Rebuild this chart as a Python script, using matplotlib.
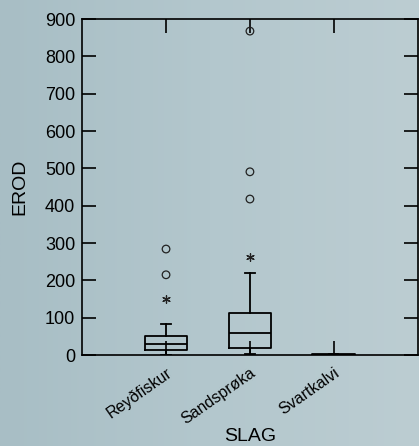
import numpy as np
import matplotlib
matplotlib.use("Agg")
import matplotlib.pyplot as plt
import matplotlib.transforms as mtransforms
from matplotlib.colors import LinearSegmentedColormap

plt.rcParams['font.family'] = ['Liberation Sans', 'DejaVu Sans']

# box statistics
labels = ['Reyðfiskur', 'Sandsprøka', 'Svartkalvi']
whislo = [0, 3, 0]
q1 = [13, 20, 0]
med = [29, 58, 1]
q3 = [51, 113, 2]
whishi = [83, 221, 3]
# outliers (circles) and extremes (stars)
circles = [[215, 284], [418, 491, 868], []]
stars = [[149], [263], []]
yticks = [0, 100, 200, 300, 400, 500, 600, 700, 800, 900]

fig = plt.figure(figsize=(4.19, 4.46), dpi=100)

# background gradient
bg = fig.add_axes([0, 0, 1, 1], zorder=-10)
bg_cmap = LinearSegmentedColormap.from_list("bg", ["#a8bec5", "#b3c7cd", "#bccdd2"])
bg.imshow(np.linspace(0, 1, 256).reshape(1, -1), aspect='auto', cmap=bg_cmap,
          extent=(0, 1, 0, 1))
bg.axis('off')

ax = fig.add_axes([0.196, 0.204, 0.801, 0.753])
ax.set_facecolor('none')

stats = []
for i in range(len(labels)):
    stats.append(dict(whislo=whislo[i], q1=q1[i], med=med[i], q3=q3[i],
                      whishi=whishi[i], fliers=[], label=labels[i]))

pos = np.arange(1, len(labels) + 1)
lw = 1.3
ax.bxp(stats, positions=pos, widths=0.51, capwidths=0.11, showfliers=False,
       boxprops=dict(color='black', linewidth=lw),
       medianprops=dict(color='black', linewidth=lw),
       whiskerprops=dict(color='black', linewidth=lw),
       capprops=dict(color='black', linewidth=lw))

for p, c, s in zip(pos, circles, stars):
    if c:
        ax.scatter([p] * len(c), c, s=30, marker='o', facecolors='none',
                   edgecolors='#222222', linewidths=0.9, zorder=3, clip_on=False)
    if s:
        ax.scatter([p] * len(s), s, s=30, marker=(6, 2, 0), color='#222222',
                   linewidths=0.9, zorder=3)

ax.set_xlim(0, 4)
ax.set_ylim(0, 900)
ax.set_yticks(yticks)
ax.set_xticks(pos)
ax.set_xticklabels(labels, rotation=35, ha='right', rotation_mode='anchor',
                   fontsize=11.5)
shift = mtransforms.ScaledTranslation(8 / 100, 0, fig.dpi_scale_trans)
for lab in ax.get_xticklabels():
    lab.set_transform(lab.get_transform() + shift)
ax.tick_params(axis='both', direction='in', length=10, width=1.2,
               top=True, right=True, colors='black')
ax.tick_params(axis='y', labelsize=13, pad=5)
ax.tick_params(axis='x', pad=7)
for sp in ax.spines.values():
    sp.set_linewidth(1.2)
    sp.set_color('black')

ax.set_ylabel('EROD', fontsize=14)
ax.yaxis.set_label_coords(-0.16, 0.5)
ax.set_xlabel('SLAG', fontsize=14)
ax.xaxis.set_label_coords(0.5, -0.217)

fig.savefig('out.png', dpi=100)
